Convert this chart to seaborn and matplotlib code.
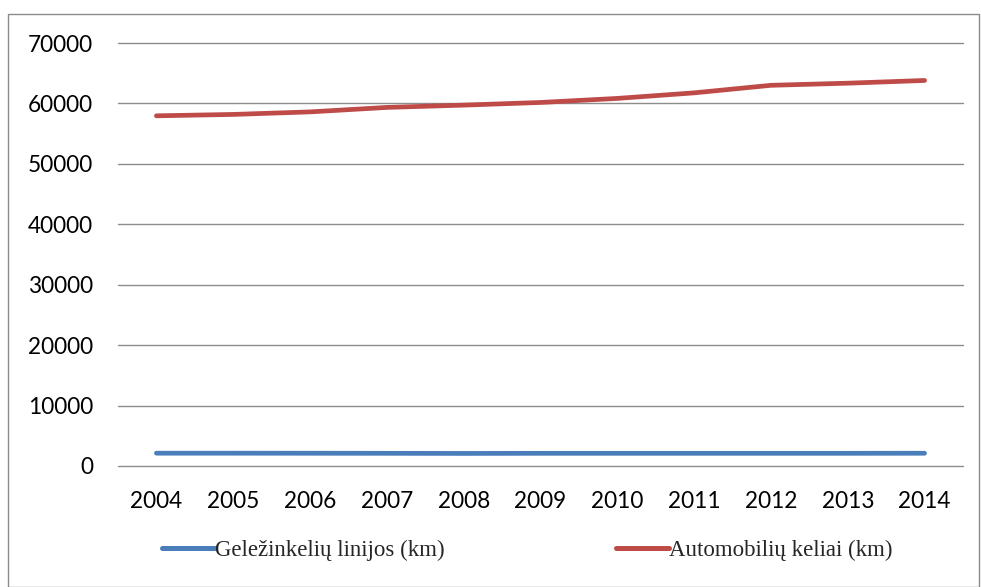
import matplotlib
matplotlib.use("Agg")
import matplotlib.pyplot as plt
import seaborn as sns
import pandas as pd
from matplotlib.patches import Rectangle
from matplotlib.lines import Line2D

years = [2004, 2005, 2006, 2007, 2008, 2009, 2010, 2011, 2012, 2013, 2014]
railways = [2120, 2120, 2110, 2100, 2080, 2100, 2100, 2100, 2100, 2100, 2110]
roads = [57950, 58180, 58600, 59340, 59720, 60160, 60830, 61750, 63000, 63350, 63800]
series_names = ["Geležinkelių linijos (km)", "Automobilių keliai (km)"]
colors = ["#4A7EBB", "#BE4B48"]
y_ticks = [0, 10000, 20000, 30000, 40000, 50000, 60000, 70000]

df = pd.DataFrame({
    "year": years * 2,
    "value": railways + roads,
    "series": [series_names[0]] * len(years) + [series_names[1]] * len(years),
})

sns.set_theme(style="white")
plt.rcParams["font.family"] = ["Lato", "DejaVu Sans"]

W, H = 981, 587
fig = plt.figure(figsize=(W / 100, H / 100), dpi=100)
ax = fig.add_axes([118 / W, 1 - 466 / H, (963 - 118) / W, (466 - 43) / H])

sns.lineplot(data=df, x="year", y="value", hue="series", palette=colors,
             hue_order=series_names, linewidth=3.4, ax=ax, legend=False,
             solid_capstyle="round")

ax.set_xlim(2003.5, 2014.5)
ax.set_ylim(0, 70000)
ax.set_yticks(y_ticks)
ax.set_yticklabels([str(v) for v in y_ticks])
ax.set_xticks(years)
ax.set_xticklabels([str(y) for y in years])
ax.tick_params(axis="both", length=0, labelsize=16.3, colors="#000000")
ax.tick_params(axis="y", pad=18)
ax.tick_params(axis="x", pad=18)
ax.set_xlabel("")
ax.set_ylabel("")
for s in ax.spines.values():
    s.set_visible(False)
ax.grid(axis="y", color="#8c8c8c", linewidth=1.0)
ax.grid(axis="x", visible=False)
ax.set_axisbelow(True)
for gl in ax.get_ygridlines():
    gl.set_clip_on(False)

handles = [Line2D([0], [0], color=c, linewidth=3.6, solid_capstyle="round") for c in colors]
fig.legend(handles, series_names, loc="center", bbox_to_anchor=(527 / W, 1 - 550 / H),
           ncol=2, frameon=False, handlelength=2.3, handletextpad=0.0,
           columnspacing=7.5, prop={"family": "Liberation Serif", "size": 16.5})

fig.patches.append(Rectangle((8 / W, 0.5 / H), (979 - 8) / W, (586 - 13) / H,
                             transform=fig.transFigure, fill=False,
                             edgecolor="#8a8a8a", linewidth=1.0))

fig.savefig("out.png", dpi=100, facecolor="white")
